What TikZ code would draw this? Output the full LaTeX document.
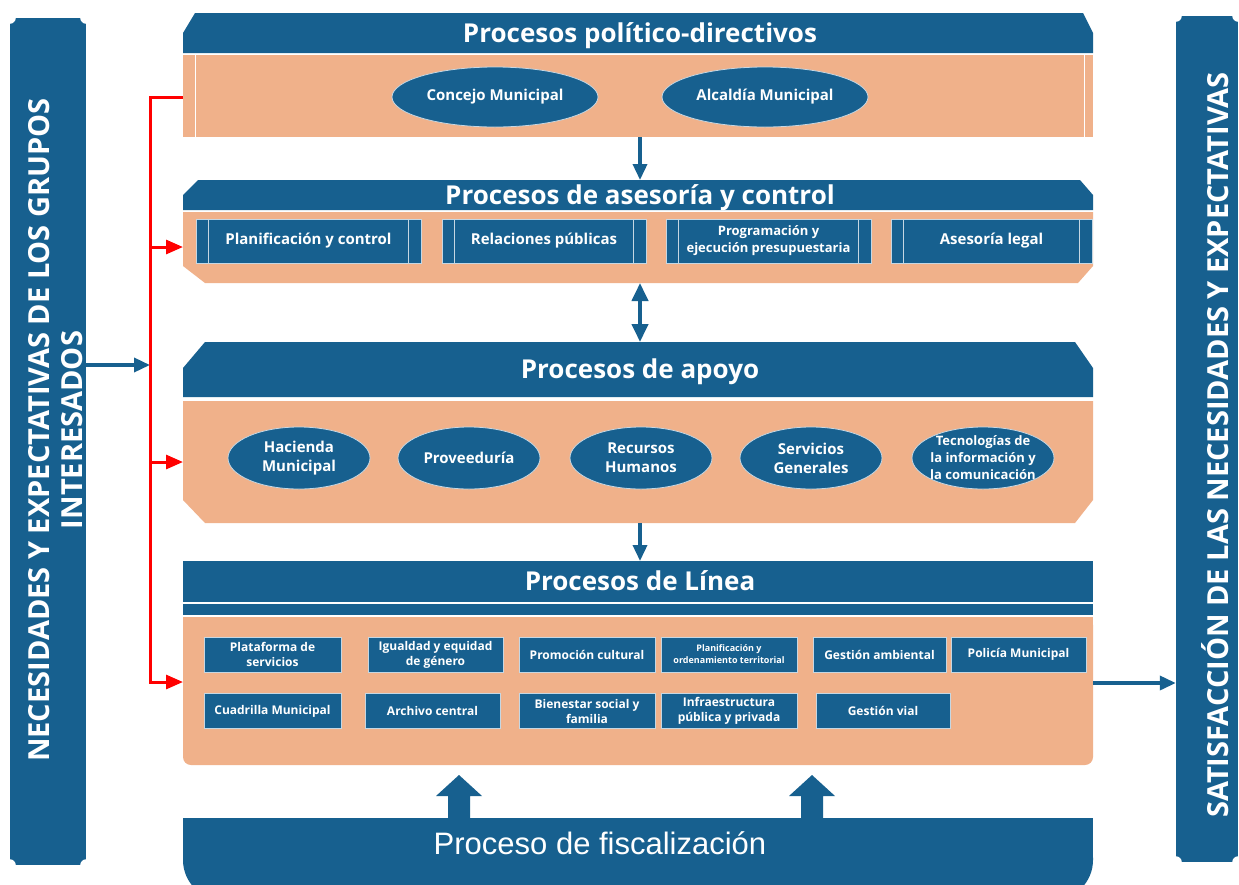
\documentclass[tikz,border=0pt]{standalone}
\usepackage{fontspec}
\setmainfont{Open Sans}
\newfontfamily\fiscfont{Liberation Sans}
\usepackage{tikz}
\usetikzlibrary{arrows.meta}
\usetikzlibrary{shapes.geometric}
\definecolor{munblue}{HTML}{17608F}
\definecolor{munpeach}{HTML}{F0B18A}
\definecolor{munred}{HTML}{FF0000}
\tikzset{
  title/.style={text=white, anchor=base, font=\bfseries\fontsize{26}{28}\selectfont},
  oval/.style={ellipse, fill=munblue, draw=white!75!munblue, line width=.8pt, text=white,
    align=center, inner sep=-12pt, minimum width=142pt, minimum height=62pt,
    font=\bfseries\fontsize{15}{19}\selectfont},
  abox/.style={rectangle, fill=munblue, draw=white!75!munblue, line width=.8pt, text=white,
    align=center, inner sep=0pt},
  bluearrow/.style={munblue, line width=3.5pt, -{Triangle[width=14pt,length=16pt]}},
  redarrow/.style={munred, line width=3pt, -{Triangle[width=14pt,length=17pt]}},
}

\begin{document}
\begin{tikzpicture}[x=1pt, y=-1pt]
\path[use as bounding box, clip] (0,0) rectangle (1239,884);
\fill[white] (0,0) rectangle (1239,884);

% side boxes
\node[fill=munblue, minimum width=76pt, minimum height=847pt, inner sep=0] (needs) at (48,441.5) {};
\node[fill=munblue, minimum width=62pt, minimum height=846pt, inner sep=0] (satis) at (1207,439) {};
\foreach \b in {needs, satis}
  \foreach \c in {north west, north east, south west, south east}
    \fill[white] (\b.\c) circle (6pt);
\node[rotate=90, text=white, align=center, font=\bfseries\fontsize{29}{33}\selectfont] (needstxt) at (56,430)
  {NECESIDADES Y EXPECTATIVAS DE LOS GRUPOS\\INTERESADOS};
\node[rotate=90, text=white, font=\bfseries\fontsize{29}{33}\selectfont] (satistxt) at (1215,445)
  {SATISFACCIÓN DE LAS NECESIDADES Y EXPECTATIVAS};

% procesos politico-directivos
\fill[munblue] (183,33) -- (195,13) -- (1083,13) -- (1093,33) -- (1093,53) -- (183,53) -- cycle;
\fill[munpeach] (183,55) rectangle (1093,137);
\draw[white, line width=.8pt] (195,55) -- (195,137) (1084,55) -- (1084,137);
\node[title] (pdtitle) at (640,42) {Procesos político-directivos};
\node[oval, minimum width=206pt, minimum height=60pt] (concejo) at (495,97) {Concejo Municipal};
\node[oval, minimum width=206pt, minimum height=60pt] (alcaldia) at (765,97) {Alcaldía Municipal};
\coordinate (pd-w) at (183,97);
\coordinate (pd-s) at (640,137);

% procesos de asesoria y control
\fill[munblue] (183,195) -- (198,180) -- (1080,180) -- (1093,195) -- (1093,210) -- (183,210) -- cycle;
\fill[munpeach] (183,212) -- (1093,212) -- (1093,266) -- (1078,283) -- (205,283) -- (183,266) -- cycle;
\node[title] (actitle) at (640,204) {Procesos de asesoría y control};
\foreach \a/\b/\s/\t/\n in {196/421/15/{Planificación y control}/pyc,
    442/646/15/{Relaciones públicas}/rp,
    666/871/13/{Programación y\\ejecución presupuestaria}/pep,
    891/1092/15/{Asesoría legal}/al} {
  \node[abox, minimum width={(\b-\a)*1pt}, minimum height=44pt,
    font=\bfseries\fontsize{\s}{17}\selectfont] (\n) at ({(\a+\b)/2},241) {\t};
  \draw[white!75!munblue, line width=.8pt] (\n.north west) ++(13,0) --++(0,44);
  \draw[white!75!munblue, line width=.8pt] (\n.north east) ++(-13,0) --++(0,44);
}
\coordinate (ac-n) at (640,180);
\coordinate (ac-w) at (183,247);
\coordinate (ac-s) at (640,283);

% procesos de apoyo
\fill[munblue] (183,368) -- (205,342) -- (1075,342) -- (1093,368) -- (1093,397) -- (183,397) -- cycle;
\fill[munpeach] (183,401) -- (1093,401) -- (1093,500) -- (1075,523) -- (205,523) -- (183,500) -- cycle;
\node[title] (aptitle) at (640,378) {Procesos de apoyo};
\foreach \x/\t/\n in {299/{Hacienda\\Municipal}/hacienda, 469/{Proveeduría}/proveeduria,
    641/{Recursos\\Humanos}/rrhh, 811/{Servicios\\Generales}/servicios}
  \node[oval] (\n) at (\x,458) {\t};
\node[oval, font=\bfseries\fontsize{13}{17}\selectfont] (tic) at (983,458)
  {Tecnologías de\\la información y\\la comunicación};
\coordinate (ap-n) at (640,342);
\coordinate (ap-w) at (183,462);
\coordinate (ap-s) at (640,523);

% procesos de linea
\fill[munblue] (183,561) rectangle (1093,602);
\fill[munblue] (183,604) rectangle (1093,615);
\fill[munpeach, rounded corners=8pt] (183,617) rectangle (1093,765);
\fill[munpeach] (183,617) rectangle (1093,640);
\node[title] (lititle) at (640,590) {Procesos de Línea};
\foreach \a/\b/\r/\t/\n in {204/341/654.5/{Plataforma de\\servicios}/plataforma,
    368/503/654.5/{Igualdad y equidad\\de género}/igualdad,
    519/655/654.5/{Promoción cultural}/promocion,
    813/946/654.5/{Gestión ambiental}/ambiental,
    951/1086/654.5/{Policía Municipal}/policia,
    204/341/711/{Cuadrilla Municipal}/cuadrilla,
    365/500/711/{Archivo central}/archivo,
    519/655/711/{Bienestar social y\\familia}/bienestar,
    661/797/711/{Infraestructura\\pública y privada}/infra,
    816/950/711/{Gestión vial}/vial}
  \node[abox, minimum width={(\b-\a)*1pt}, minimum height=35pt,
    font=\bfseries\fontsize{12}{15}\selectfont] (\n) at ({(\a+\b)/2},\r) {\t};
\node[abox, minimum width=136pt, minimum height=35pt,
  font=\bfseries\fontsize{9}{12}\selectfont] (ordenamiento) at (729,654.5)
  {Planificación y\\ordenamiento territorial};
\coordinate (li-n) at (640,561);
\coordinate (li-w) at (183,682);
\coordinate (li-e) at (1093,683);

% proceso de fiscalizacion
\fill[munblue, rounded corners=40pt] (183,818) rectangle (1093,900);
\fill[munblue] (183,818) rectangle (1093,860);
\node[text=white, anchor=base, font=\fiscfont\fontsize{31}{34}\selectfont] (fisc) at (600,854) {Proceso de fiscalización};
\foreach \c in {459,812}
  \fill[munblue] (\c-11,818) -- (\c-11,796) -- (\c-23,796) -- (\c,775) -- (\c+23,796) -- (\c+11,796) -- (\c+11,818) -- cycle;

% connectors
\coordinate (hub) at (150,365);
\draw[bluearrow] (pd-s) -- (ac-n);
\draw[munblue, line width=4pt, {Triangle[width=16pt,length=18pt]}-{Triangle[width=16pt,length=18pt]}] (ac-s) -- (ap-n);
\draw[bluearrow] (ap-s) -- (li-n);
\draw[bluearrow] (needs.east |- hub) -- (hub);
\draw[redarrow] (pd-w) -| (li-w -| hub) -- (li-w);
\foreach \b in {ac-w, ap-w}
  \draw[redarrow] (\b -| hub) -- (\b);
\draw[bluearrow] (li-e) -- (li-e -| satis.west);
\end{tikzpicture}
\end{document}
